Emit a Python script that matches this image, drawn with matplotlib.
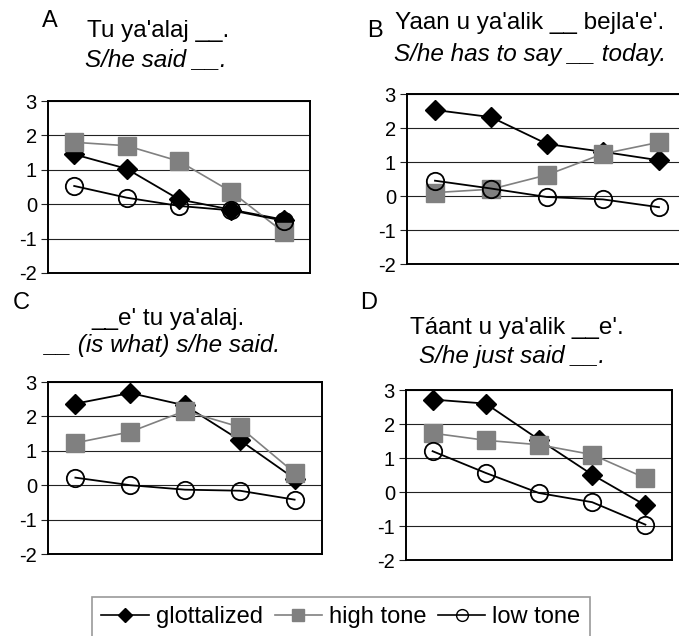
import matplotlib.pyplot as plt
from matplotlib.lines import Line2D

plt.rcParams['font.family'] = ['Liberation Sans', 'DejaVu Sans']
plt.rcParams['axes.unicode_minus'] = False

W, H = 679, 636

positions = [1, 2, 3, 4, 5]
series_names = ['glottalized', 'high tone', 'low tone']

# values per panel: glottalized, high tone, low tone
glott_A = [1.45, 1.03, 0.14, -0.16, -0.45]
high_A = [1.8, 1.7, 1.25, 0.36, -0.82]
low_A = [0.53, 0.19, -0.05, -0.18, -0.48]

glott_B = [2.53, 2.32, 1.53, 1.3, 1.05]
high_B = [0.1, 0.2, 0.62, 1.24, 1.58]
low_B = [0.45, 0.22, -0.03, -0.1, -0.33]

glott_C = [2.37, 2.68, 2.32, 1.31, 0.19]
high_C = [1.23, 1.55, 2.16, 1.69, 0.36]
low_C = [0.22, 0.0, -0.13, -0.16, -0.42]

glott_D = [2.72, 2.6, 1.54, 0.51, -0.39]
high_D = [1.73, 1.52, 1.39, 1.1, 0.41]
low_D = [1.2, 0.56, -0.03, -0.3, -0.96]

letters = ['A', 'B', 'C', 'D']
lines1 = ["Tu ya'alaj __.", "Yaan u ya'alik __ bejla'e'.",
          "__e' tu ya'alaj.", "Táant u ya'alik __e'."]
lines2 = ["S/he said __.", "S/he has to say __ today.",
          "__ (is what) s/he said.", "S/he just said __."]
yticks = [-2, -1, 0, 1, 2, 3]

# axes boxes in pixels: left, top, right, bottom
boxes = [(48, 101, 310, 273), (407, 94, 687, 264),
         (48, 382, 322, 554), (406, 390, 672, 560)]
letter_xy = [(50, 21), (375, 31), (21, 303), (369, 303)]
line1_xy = [(158, 31), (530, 23), (168, 319), (517, 328)]
line2_xy = [(156, 60), (530, 55), (163, 345), (512, 357)]

data = [(glott_A, high_A, low_A), (glott_B, high_B, low_B),
        (glott_C, high_C, low_C), (glott_D, high_D, low_D)]

fig = plt.figure(figsize=(W / 100, H / 100), dpi=100)


def fx(x):
    return x / W


def fy(y):
    return 1 - y / H


gray = '#808080'
for i in range(4):
    l, t, r, b = boxes[i]
    ax = fig.add_axes([fx(l), fy(b), (r - l) / W, (b - t) / H])
    g, h, lo = data[i]
    ax.plot(positions, g, color='black', lw=1.3, marker='D', ms=10.5,
            mfc='black', mec='black', zorder=3)
    ax.plot(positions, h, color=gray, lw=1.2, marker='s', ms=13.5,
            mfc=gray, mec=gray, zorder=4)
    ax.plot(positions, lo, color='black', lw=1.3, marker='o', ms=12.5,
            mfc='none', mec='black', mew=1.3, zorder=5)
    ax.set_xlim(0.5, 5.5)
    ax.set_ylim(-2, 3)
    ax.set_yticks(yticks)
    ax.set_xticks([])
    ax.grid(axis='y', color='#222222', lw=0.8)
    ax.set_axisbelow(True)
    ax.tick_params(axis='y', length=5, width=0.8, color='#222222',
                   labelsize=14.5, pad=3)
    for s in ax.spines.values():
        s.set_linewidth(1.4)
        s.set_color('black')
    if i == 1:
        ax.spines['right'].set_visible(False)

    fig.text(fx(letter_xy[i][0]), fy(letter_xy[i][1]), letters[i],
             fontsize=17, ha='center', va='center')
    fig.text(fx(line1_xy[i][0]), fy(line1_xy[i][1]), lines1[i],
             fontsize=17.5, ha='center', va='center')
    fig.text(fx(line2_xy[i][0]), fy(line2_xy[i][1]), lines2[i],
             fontsize=17.5, ha='center', va='center', style='italic')

handles = [
    Line2D([], [], color='black', lw=1.2, marker='D', ms=6.8, mfc='black'),
    Line2D([], [], color=gray, lw=1.2, marker='s', ms=8.5, mfc=gray, mec=gray),
    Line2D([], [], color='black', lw=1.2, marker='o', ms=8.5, mfc='none', mec='black'),
]
leg = fig.legend(handles, series_names, loc='center',
                 bbox_to_anchor=(fx(341), fy(617)), ncol=3, fontsize=17,
                 frameon=True, fancybox=False, edgecolor=gray,
                 handlelength=2.0, handletextpad=0.3, columnspacing=0.5,
                 borderpad=0.4)
leg.get_frame().set_linewidth(1.2)

fig.savefig('out.png', dpi=100)
